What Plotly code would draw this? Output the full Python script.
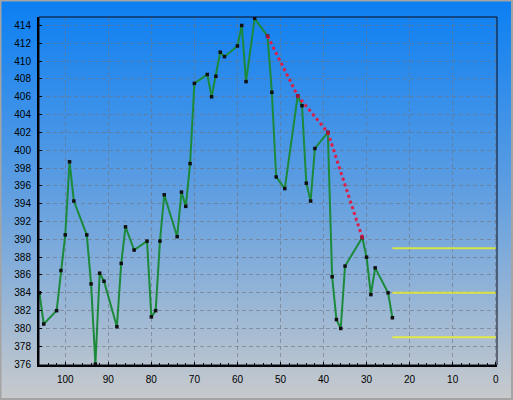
import base64
import plotly.graph_objects as go

# ---- data ----
x_vals = [106, 105, 102, 101, 100, 99, 98, 95, 94, 93, 92, 91, 88, 87, 86, 84, 81, 80, 79, 78,
          77, 74, 73, 72, 71, 70, 67, 66, 65, 64, 63, 60, 59, 58, 56, 53, 52, 51, 49, 46,
          45, 44, 43, 42, 39, 38, 37, 36, 35, 31, 30, 29, 28, 25, 24]
y_vals = [384.0, 380.5, 382.0, 386.5, 390.5, 398.7, 394.3, 390.5, 385.0, 376.0, 386.2, 385.3,
          380.2, 387.3, 391.4, 388.8, 389.8, 381.3, 382.0, 389.8, 395.0, 390.3, 395.3, 393.7,
          398.5, 407.5, 408.5, 406.0, 408.3, 411.0, 410.5, 411.7, 414.0, 407.7, 414.8, 412.8,
          406.5, 397.0, 395.7, 406.1, 405.0, 396.3, 394.3, 400.2, 402.0, 385.8, 381.0, 380.0,
          387.0, 390.2, 388.0, 383.8, 386.8, 384.0, 381.2]

trend_x = [53, 46, 39, 31]
trend_y = [412.8, 406.1, 402.0, 390.2]

level_values = [389, 384, 379]
level_start = 24
level_end = 0

x_ticks = [100, 90, 80, 70, 60, 50, 40, 30, 20, 10, 0]
y_ticks = list(range(376, 416, 2))

# ---- figure ----
W, H = 513, 400
L, R, T, B = 39, 16, 17, 35
pw, ph = W - L - R, H - T - B

fig = go.Figure()

for lv in level_values:
    fig.add_trace(go.Scatter(
        x=[level_start, level_end], y=[lv, lv], mode="lines",
        line=dict(color="rgba(255,255,0,0.68)", width=2),
        hoverinfo="skip", showlegend=False))

fig.add_trace(go.Scatter(
    x=x_vals, y=y_vals, mode="lines+markers",
    line=dict(color="#1b8a3a", width=2),
    marker=dict(symbol="square", size=3.5, color="#101010"),
    showlegend=False))

fig.add_trace(go.Scatter(
    x=trend_x, y=trend_y, mode="lines+markers",
    line=dict(color="#d8204a", width=3, dash="dot"),
    marker=dict(symbol="square", size=3.5, color="#a01838"),
    showlegend=False))

svg = (f'<svg xmlns="http://www.w3.org/2000/svg" width="{W}" height="{H}" '
       f'viewBox="0 0 {W} {H}" preserveAspectRatio="none"><defs>'
       '<linearGradient id="g" x1="0" y1="0" x2="0" y2="1">'
       '<stop offset="0" stop-color="#0b7ff3"/>'
       '<stop offset="0.45" stop-color="#5a9ce2"/>'
       '<stop offset="1" stop-color="#c8cacc"/>'
       '</linearGradient></defs>'
       f'<rect x="0" y="0" width="{W}" height="{H}" fill="url(#g)"/></svg>')
src = "data:image/svg+xml;base64," + base64.b64encode(svg.encode()).decode()

fig.add_layout_image(dict(
    source=src, xref="paper", yref="paper",
    x=-L / pw, y=1 + T / ph, sizex=W / pw, sizey=H / ph,
    xanchor="left", yanchor="top", sizing="stretch", layer="below"))

# outer frame
fig.add_shape(type="rect", xref="paper", yref="paper",
              x0=-L / pw + 0.5 / pw, x1=1 + (R - 1) / pw,
              y0=-(B - 1) / ph, y1=1 + (T - 0.5) / ph,
              line=dict(color="#a4a4a4", width=2), layer="above")
# plot border
fig.add_shape(type="rect", xref="paper", yref="paper", x0=0, x1=1, y0=0, y1=1,
              line=dict(color="#0a0a1a", width=1), layer="above")

fig.update_layout(
    width=W, height=H,
    margin=dict(l=L, r=R, t=T, b=B),
    paper_bgcolor="rgba(0,0,0,0)",
    plot_bgcolor="rgba(0,0,0,0)",
    font=dict(family="Liberation Sans, Arial, sans-serif", size=10, color="#000000"),
    showlegend=False,
)

fig.update_xaxes(
    range=[106.1, -0.3], tickvals=x_ticks, ticktext=[str(v) for v in x_ticks],
    showgrid=True, gridcolor="rgba(110,115,125,0.6)", griddash="4px,3px", gridwidth=1,
    zeroline=False, showline=True, linecolor="#000000", linewidth=2,
    ticks="inside", ticklen=3, tickcolor="#000000",
    minor=dict(dtick=2, ticks="inside", ticklen=2, tickcolor="#000000", showgrid=False),
    ticklabelstandoff=4,
)
fig.update_yaxes(
    range=[375.9, 414.95], tickvals=y_ticks, ticktext=[str(v) for v in y_ticks],
    showgrid=True, gridcolor="rgba(110,115,125,0.6)", griddash="4px,3px", gridwidth=1,
    zeroline=False, showline=True, linecolor="#000000", linewidth=2,
    ticks="inside", ticklen=3, tickcolor="#000000",
    ticklabelstandoff=4,
)

fig.write_html("out.html",
               config={"displayModeBar": False},
               post_script="document.body.style.margin='0';document.body.style.overflow='hidden';")
